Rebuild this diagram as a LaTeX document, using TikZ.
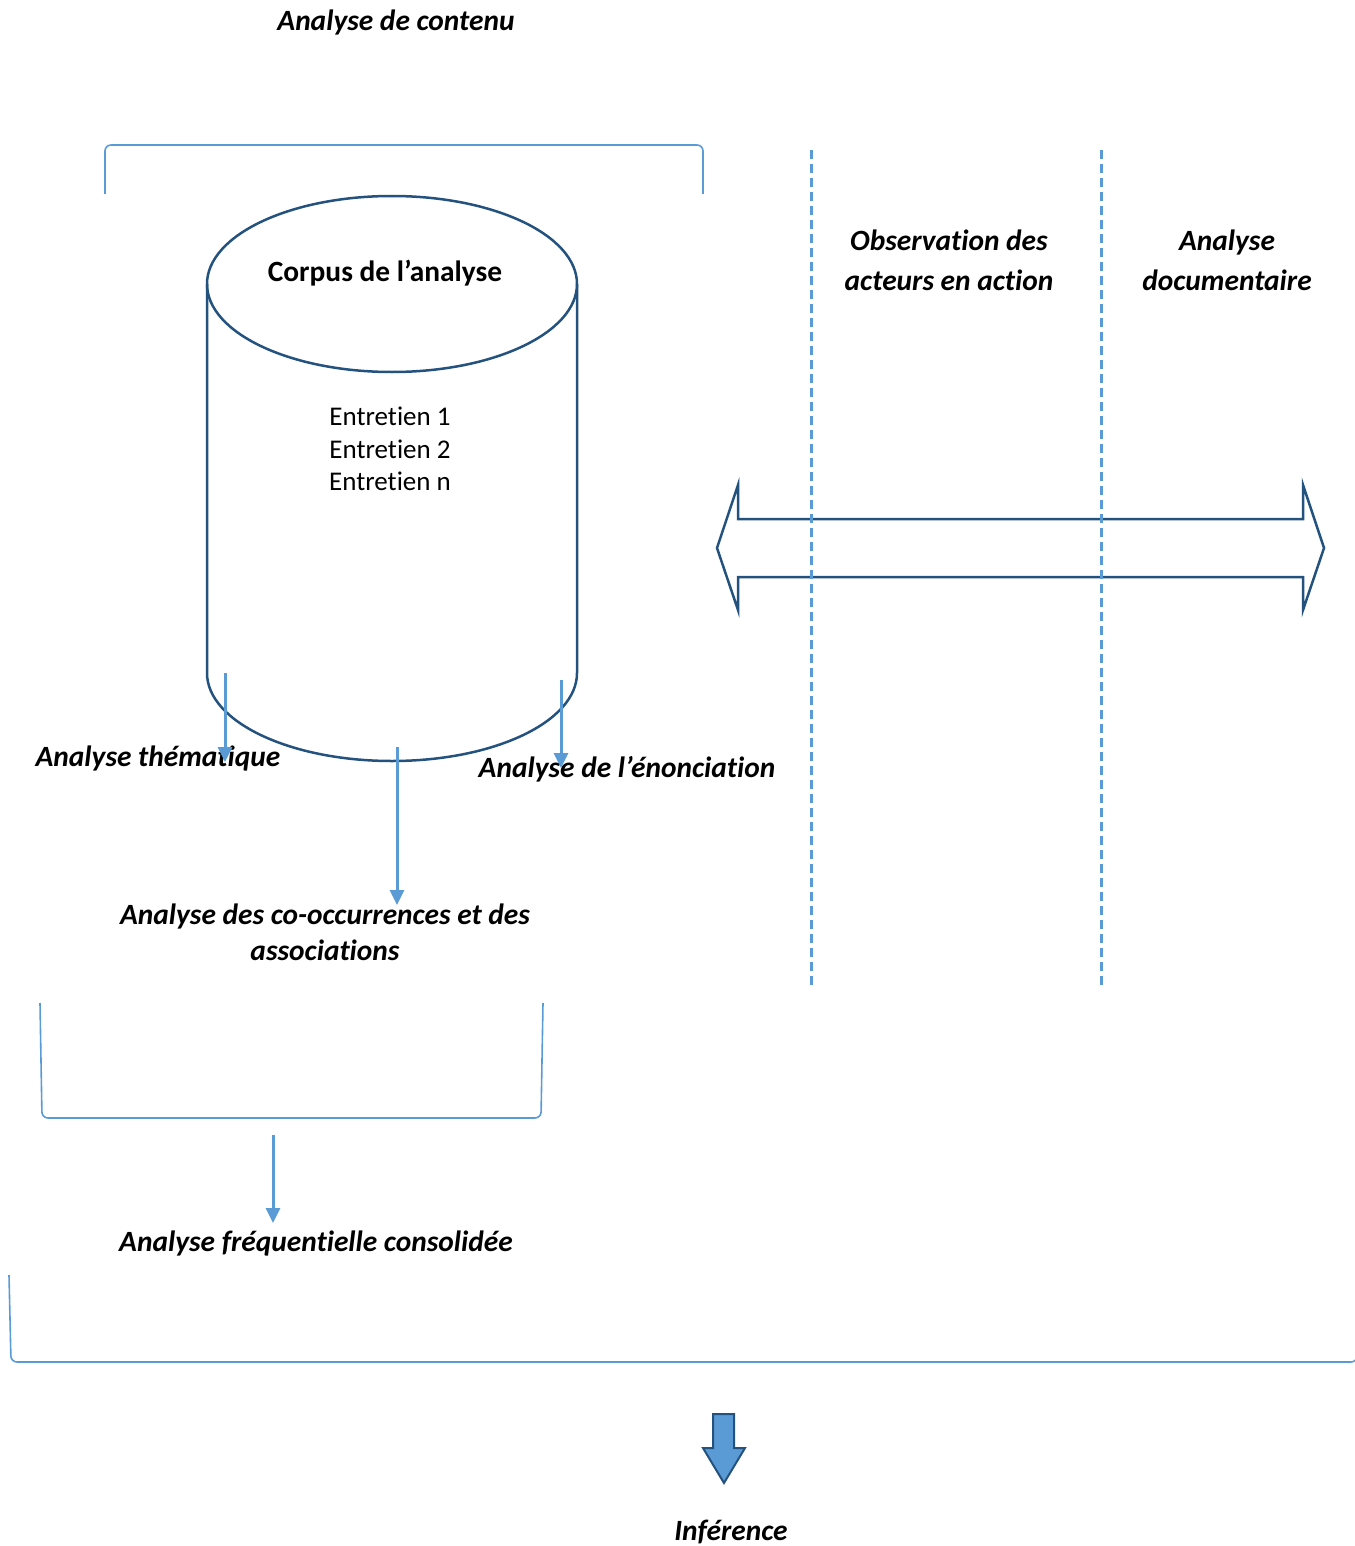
\documentclass[tikz,border=0pt]{standalone}
\usepackage{fontspec}
\setmainfont[Ligatures=NoCommon]{Carlito}
\usetikzlibrary{arrows.meta}
\definecolor{navy}{HTML}{24527F}
\definecolor{sky}{HTML}{5B9BD5}
\begin{document}
\begin{tikzpicture}[x=0.5pt,y=-0.5pt,
  lbl/.style={font=\fontsize{14.7}{20}\selectfont\bfseries\itshape, align=center, inner sep=0pt},
  tightlbl/.style={lbl, font=\fontsize{14.7}{18}\selectfont\bfseries\itshape},
  plain/.style={font=\fontsize{13.5}{16.25}\selectfont, align=center, inner sep=0pt},
  title/.style={font=\fontsize{14.7}{18}\selectfont\bfseries, inner sep=0pt},
  outline/.style={draw=navy, line width=1.25pt, line join=miter},
  bracket/.style={draw=sky, line width=0.8pt, rounded corners=3pt},
  flow/.style={draw=sky, line width=1.5pt, -{Triangle[length=7.5pt,width=7pt]}},
  divider/.style={draw=sky, line width=1.5pt, dash pattern=on 4.5pt off 2.5pt}]
\useasboundingbox (0,0) rectangle (1354,1546);

% section brackets
\draw[bracket] (105,194) -- (105,145) -- (703,145) -- (703,194);
\draw[bracket] (40,1003) -- (42,1118) -- (541,1118) -- (543,1003);
\draw[bracket] (9,1275) -- (11,1362) -- (1357,1362) -- (1358,1275);

% corpus cylinder
\coordinate (ctop) at (392,284);
\coordinate (cbot) at (392,673);
\draw[outline] (207,284) -- (207,673) arc[start angle=180,end angle=0,x radius=185,y radius=88] -- (577,284);
\draw[outline] (ctop) ellipse[x radius=185, y radius=88];
\node[title] (corpus) at (385,273) {Corpus de l’analyse};
\node[plain] (entretiens) at (390,449) {Entretien 1\\Entretien 2\\Entretien n};

% two-way block arrow
\draw[outline] (717,548) -- (738,485) -- (738,519) -- (1303,519) -- (1303,485)
  -- (1324,548) -- (1303,610) -- (1303,577) -- (738,577) -- (738,610) -- cycle;

% column dividers
\coordinate (d1t) at (811,150); \coordinate (d1b) at (811,990);
\coordinate (d2t) at (1101,150); \coordinate (d2b) at (1101,990);
\draw[divider] (d1t) -- (d1b);
\draw[divider] (d2t) -- (d2b);

% labels
\node[lbl] (contenu) at (396,22) {Analyse de contenu};
\node[lbl] (observ) at (949,260) {Observation des\\acteurs en action};
\node[lbl] (docu) at (1227,260) {Analyse\\documentaire};
\node[lbl] (them) at (158,758) {Analyse thématique};
\node[lbl] (enon) at (627,769) {Analyse de l’énonciation};
\node[tightlbl] (cooc) at (325,932) {Analyse des co-occurrences et des\\associations};
\node[lbl] (freq) at (316,1243) {Analyse fréquentielle consolidée};
\node[lbl] (infer) at (731,1532) {Inférence};

% analysis flows
\coordinate (s1) at (225,673); \coordinate (e1) at (225,762);
\coordinate (s2) at (561,680); \coordinate (e2) at (561,768);
\coordinate (s3) at (397,747); \coordinate (e3) at (397,905);
\coordinate (s4) at (273,1135); \coordinate (e4) at (273,1223);
\draw[flow] (s1) -- (e1);
\draw[flow] (s2) -- (e2);
\draw[flow] (s3) -- (e3);
\draw[flow] (s4) -- (e4);

% inference arrow
\draw[outline, fill=sky, line width=1pt] (713,1414) -- (734,1414) -- (734,1448) -- (745,1448)
  -- (724,1483) -- (703,1448) -- (713,1448) -- cycle;
\end{tikzpicture}
\end{document}
